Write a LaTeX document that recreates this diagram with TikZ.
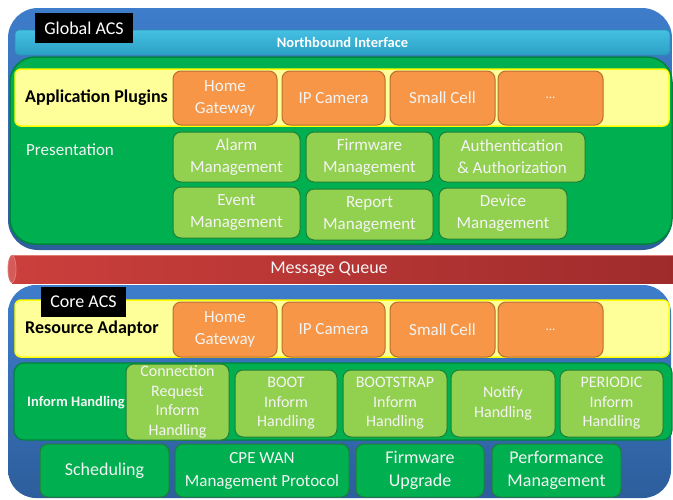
\documentclass[tikz,border=0pt]{standalone}
\usepackage{fontspec}
\setmainfont{Carlito}
\usetikzlibrary{shadings}

\definecolor{frameTop}{HTML}{3E7DCB}
\definecolor{frameBot}{HTML}{2D5E9C}
\definecolor{nbTop}{HTML}{45C0E2}
\definecolor{nbBot}{HTML}{2A9FC4}
\definecolor{nbLine}{HTML}{2B8FB3}
\definecolor{layerGreen}{HTML}{00B050}
\definecolor{layerLine}{HTML}{00843C}
\definecolor{plugFill}{HTML}{FFFF99}
\definecolor{plugLine}{HTML}{FFFF00}
\definecolor{devFill}{HTML}{F79646}
\definecolor{devLine}{HTML}{B5702F}
\definecolor{modFill}{HTML}{92D050}
\definecolor{modLine}{HTML}{1F7F35}
\definecolor{mqLeft}{HTML}{CB3F3C}
\definecolor{mqRight}{HTML}{9E2B2B}
\definecolor{mqEdge}{HTML}{E27A78}
\definecolor{txt}{HTML}{F4F4F4}

\tikzset{
  box/.style={anchor=north west, inner sep=0pt, outer sep=0pt, align=center,
    font=\fontsize{17}{22}\selectfont, text=txt},
  frame/.style={box, top color=frameTop, bottom color=frameBot, rounded corners=30pt},
  layer/.style={box, fill=layerGreen, draw=layerLine, line width=1.5pt},
  tray/.style={box, fill=plugFill, draw=plugLine, line width=1.5pt, rounded corners=6pt},
  device/.style={box, fill=devFill, draw=devLine, line width=1pt, rounded corners=8pt},
  module/.style={box, fill=modFill, draw=modLine, line width=1pt, rounded corners=8pt},
  handler/.style={module, font=\fontsize{16}{19.5}\selectfont},
  service/.style={box, fill=layerGreen, draw=modLine, line width=1pt, rounded corners=8pt,
    font=\fontsize{18}{23}\selectfont},
  tag/.style={box, fill=black, text=white, font=\fontsize{18}{20}\selectfont},
  heading/.style={anchor=west, inner sep=0pt, font=\bfseries\fontsize{18}{20}\selectfont, text=black},
  caption/.style={anchor=west, inner sep=0pt, text=txt},
  more/.style={font=\fontsize{13}{15}\selectfont},
}

\begin{document}
\begin{tikzpicture}[x=1pt, y=-1pt]
\useasboundingbox (0,0) rectangle (673,499);
\clip (0,0) rectangle (673,499);

% ---------------- Global ACS ----------------
\node[frame, minimum width=664, minimum height=242] (global) at (8,8) {};
\node[box, top color=nbTop, bottom color=nbBot, draw=nbLine, line width=0.8pt,
      rounded corners=4pt, minimum width=655, minimum height=25,
      font=\bfseries\fontsize{14.5}{16}\selectfont, text=white] (north) at (15,30) {Northbound Interface};
\node[tag, minimum width=98, minimum height=30] (gtag) at (35,13) {Global ACS};

\node[layer, rounded corners=25pt, minimum width=662, minimum height=187] (pres) at (10,57) {};
\node[tray, minimum width=654, minimum height=57] (plugins) at (15,69) {};
\node[heading] (pluglbl) at (25,98) {Application Plugins};

\node[device, minimum width=104, minimum height=54] (hg1) at (173,71) {Home\\Gateway};
\node[device, minimum width=103, minimum height=54] (ipc1) at (282,71) {IP Camera};
\node[device, minimum width=105, minimum height=54] (sc1) at (390,71) {Small Cell};
\node[device, more, minimum width=105, minimum height=54] (etc1) at (498,71) {...};

\node[caption, font=\fontsize{17}{20}\selectfont] (preslbl) at (26,150) {Presentation};

\node[module, minimum width=127, minimum height=50] (alarm) at (173,132) {Alarm\\Management};
\node[module, minimum width=127, minimum height=50] (fwm) at (306,132) {Firmware\\Management};
\node[module, minimum width=146, minimum height=50] (auth) at (439,132) {Authentication\\\& Authorization};
\node[module, minimum width=127, minimum height=51] (event) at (173,187) {Event\\Management};
\node[module, minimum width=127, minimum height=51] (report) at (306,189) {Report\\Management};
\node[module, minimum width=128, minimum height=51] (devm) at (439,188) {Device\\Management};

% ---------------- Message queue ----------------
\path[left color=mqLeft, right color=mqRight] (12,255) rectangle (690,283);
\draw[mqEdge, line width=0.6pt] (12,255.3) -- (690,255.3);
\fill[mqLeft!85!white, draw=mqEdge, line width=0.8pt] (12,269) ellipse [x radius=4, y radius=13.7];
\node[inner sep=0pt, text=txt, font=\fontsize{18}{20}\selectfont] (mq) at (329,269) {Message Queue};

% ---------------- Core ACS ----------------
\node[frame, rounded corners=28pt, minimum width=663, minimum height=213] (core) at (8,285) {};

\node[tray, minimum width=654, minimum height=57] (adaptor) at (15,300) {};
\node[tag, minimum width=85, minimum height=30] (ctag) at (41,287) {Core ACS};
\node[heading] (adaptlbl) at (25,329) {Resource Adaptor};

\node[device, minimum width=104, minimum height=55] (hg2) at (173,302) {Home\\Gateway};
\node[device, minimum width=103, minimum height=55] (ipc2) at (282,302) {IP Camera};
\node[device, minimum width=105, minimum height=55] (sc2) at (390,302) {Small Cell};
\node[device, more, minimum width=105, minimum height=55] (etc2) at (498,302) {...};

\node[layer, line width=1.2pt, rounded corners=10pt, minimum width=658, minimum height=77] (inform) at (14,363) {};
\node[caption, font=\bfseries\fontsize{14.5}{16}\selectfont] (informlbl) at (27,403) {Inform Handling};

\node[handler, minimum width=103, minimum height=76] (conn) at (126,364) {Connection\\Request\\Inform\\Handling};
\node[handler, minimum width=102, minimum height=67] (boot) at (235,370) {BOOT\\Inform\\Handling};
\node[handler, minimum width=104, minimum height=67] (bootstrap) at (343,370) {BOOTSTRAP\\Inform\\Handling};
\node[handler, minimum width=104, minimum height=67] (notify) at (451,370) {Notify\\Handling};
\node[handler, minimum width=103, minimum height=67] (periodic) at (560,370) {PERIODIC\\Inform\\Handling};

\node[service, minimum width=129, minimum height=53] (sched) at (40,444) {Scheduling};
\node[service, font=\fontsize{17}{23}\selectfont, minimum width=174, minimum height=53] (cwmp) at (175,444) {CPE WAN\\Management Protocol};
\node[service, minimum width=128, minimum height=53] (fwu) at (356,444) {Firmware\\Upgrade};
\node[service, minimum width=129, minimum height=53] (perf) at (492,444) {Performance\\Management};
\end{tikzpicture}
\end{document}
